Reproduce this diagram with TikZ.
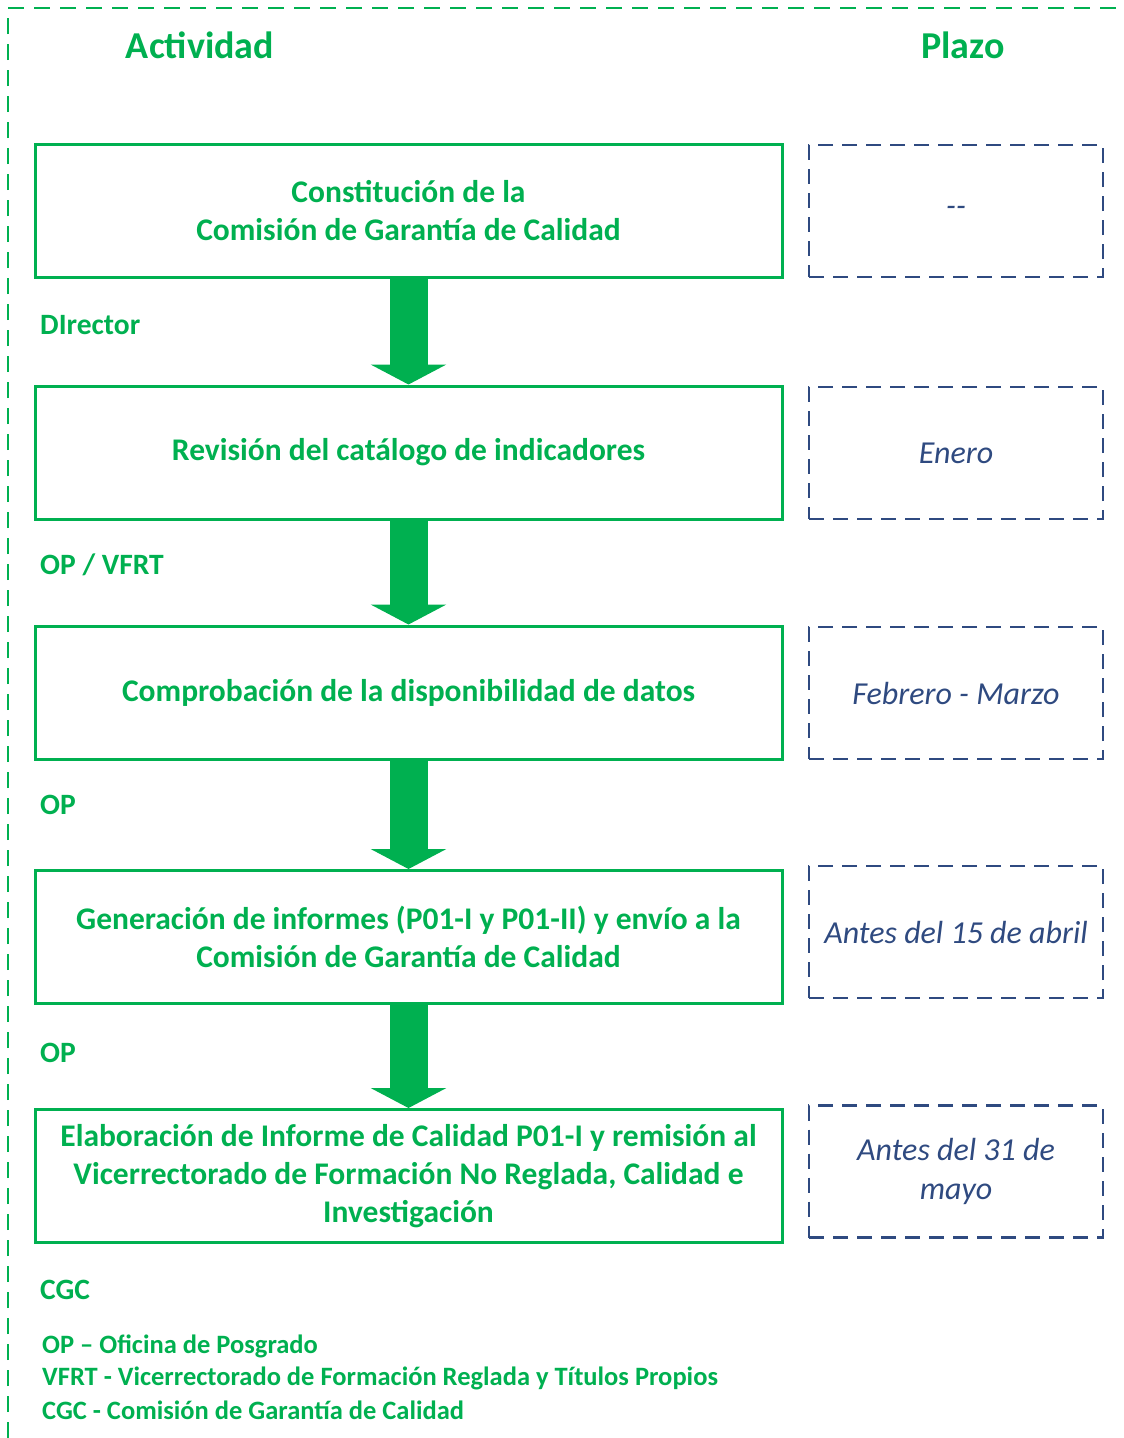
\documentclass[tikz,border=0pt]{standalone}
\usepackage{fontspec}
\setmainfont{Carlito}
\usepackage{xcolor}
\usepackage{tikz}
\usetikzlibrary{arrows.meta}
\definecolor{verde}{HTML}{00B050}
\definecolor{azul}{HTML}{2F4A80}

\begin{document}
\begin{tikzpicture}[x=1pt, y=-1pt,
	actividad/.style = {draw=verde, line width=3pt, text=verde, minimum width=747pt, minimum height=133pt, align=center, font=\fontsize{31.5}{38}\selectfont\bfseries},
	plazo/.style = {draw=azul, line width=2.5pt, dash pattern=on 15pt off 9pt, text=azul, minimum width=294pt, minimum height=132pt, align=center, font=\fontsize{32}{39}\selectfont\itshape},
	flecha/.style = {verde, line width=38pt, -{Triangle[width=75pt, length=20pt]}},
	resp/.style = {anchor=west, inner sep=0pt, text=verde, font=\fontsize{29.5}{32}\selectfont\bfseries},
	leyenda/.style = {anchor=west, inner sep=0pt, text=verde, font=\fontsize{26.5}{30}\selectfont\bfseries}]
	\useasboundingbox (0, 0) rectangle (1124, 1438);
	\draw[verde, line width=2pt, dash pattern=on 16pt off 10pt] (8, 1438) -- (8, 8) -- (1124, 8);
	\node[text=verde, font=\fontsize{38}{42}\selectfont\bfseries] (tit1) at (200, 45) {Actividad};
	\node[text=verde, font=\fontsize{38}{42}\selectfont\bfseries] (tit2) at (963, 45) {Plazo};

	\node[actividad] (act1) at (408.5, 210.5) {Constitución de la\\Comisión de Garantía de Calidad};
	\node[actividad] (act2) at (408.5, 452.5) {Revisión del catálogo de indicadores};
	\node[actividad] (act3) at (408.5, 692.5) {Comprobación de la disponibilidad de datos};
	\node[actividad] (act4) at (408.5, 937) {Generación de informes (P01-I y P01-II) y envío a la\\Comisión de Garantía de Calidad};
	\node[actividad] (act5) at (408.5, 1176) {Elaboración de Informe de Calidad P01-I y remisión al\\Vicerrectorado de Formación No Reglada, Calidad e\\Investigación};

	\node[plazo] (plz1) at (956, 211) {-{}-};
	\node[plazo] (plz2) at (956, 453) {Enero};
	\node[plazo] (plz3) at (956, 693) {Febrero - Marzo};
	\node[plazo] (plz4) at (956, 932) {Antes del 15 de abril};
	\node[plazo] (plz5) at (956, 1171.5) {Antes del 31 de\\mayo};

	\draw[flecha] (act1.south) -- (act2.north);
	\draw[flecha] (act2.south) -- (act3.north);
	\draw[flecha] (act3.south) -- (act4.north);
	\draw[flecha] (act4.south) -- (act5.north);

	\node[resp] (r1) at (40, 325) {DIrector};
	\node[resp] (r2) at (40, 565) {OP / VFRT};
	\node[resp] (r3) at (40, 805) {OP};
	\node[resp] (r4) at (40, 1053) {OP};
	\node[resp] (r5) at (40, 1290) {CGC};

	\node[leyenda] (ley1) at (42, 1346) {OP – Oficina de Posgrado};
	\node[leyenda] (ley2) at (42, 1378) {VFRT - Vicerrectorado de Formación Reglada y Títulos Propios};
	\node[leyenda] (ley3) at (42, 1410) {CGC - Comisión de Garantía de Calidad};
\end{tikzpicture}
\end{document}
